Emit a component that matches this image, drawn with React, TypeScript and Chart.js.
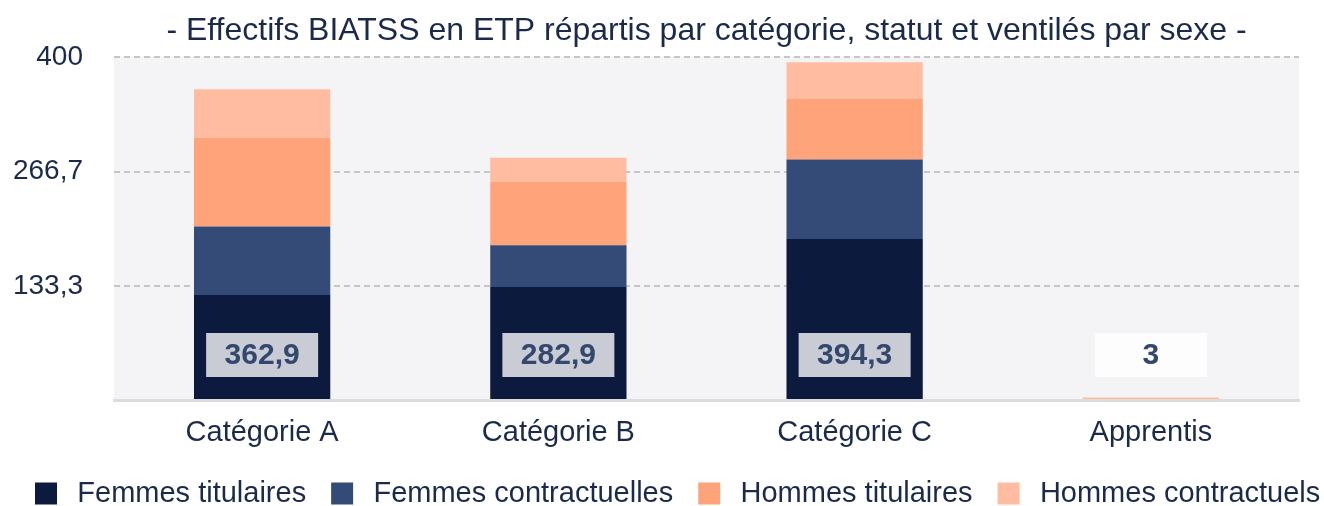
import React, { useEffect, useRef } from 'react';
import { Chart, registerables } from 'chart.js';

Chart.register(...registerables);

const categories = ['Catégorie A', 'Catégorie B', 'Catégorie C', 'Apprentis'];
const femmesTitulaires = [122.5, 132, 188, 0];
const femmesContractuelles = [80, 48.6, 92.8, 0];
const hommesTitulaires = [104, 74.4, 70.7, 0];
const hommesContractuels = [56.4, 27.9, 42.8, 3];
const seriesLabels = ['Femmes titulaires', 'Femmes contractuelles', 'Hommes titulaires', 'Hommes contractuels'];
const seriesColors = ['#0B1A3D', '#334B76', '#FFA37A', '#FFBCA0'];
const yTickValues = [0, 133.3, 266.7, 400];
const titleText = '- Effectifs BIATSS en ETP répartis par catégorie, statut et ventilés par sexe -';

const FONT = "'Liberation Sans', Arial, Helvetica, sans-serif";
const TEXT = '#1B2A4B';

const fmt = (v: number) => {
  const r = Math.round(v * 10) / 10;
  return (Number.isInteger(r) ? String(r) : r.toFixed(1)).replace('.', ',');
};

const bgPlugin = {
  id: 'plotBg',
  beforeDraw(chart: any) {
    const { ctx, chartArea } = chart;
    ctx.save();
    ctx.fillStyle = '#F4F4F6';
    ctx.fillRect(chartArea.left, chartArea.top - 1, chartArea.right - chartArea.left, chartArea.bottom - chartArea.top + 1);
    ctx.restore();
  },
};

const totalsPlugin = {
  id: 'totals',
  afterDatasetsDraw(chart: any) {
    const { ctx } = chart;
    const xs = chart.scales.x;
    const ys = chart.scales.y;
    const base = ys.getPixelForValue(0);
    categories.forEach((_, i) => {
      let total = 0;
      chart.data.datasets.forEach((d: any) => { total += d.data[i] || 0; });
      const cx = xs.getPixelForValue(i);
      const w = 112;
      const h = 44;
      const top = base - 67;
      ctx.save();
      ctx.fillStyle = 'rgba(255,255,255,0.78)';
      ctx.fillRect(cx - w / 2, top, w, h);
      ctx.fillStyle = '#34476C';
      ctx.font = `bold 30px ${FONT}`;
      ctx.textAlign = 'center';
      ctx.textBaseline = 'middle';
      ctx.fillText(fmt(total), cx, top + h / 2 + 1);
      ctx.restore();
    });
  },
};

export default function App() {
  const ref = useRef<HTMLCanvasElement | null>(null);
  useEffect(() => {
    document.body.style.margin = '0';
    if (!ref.current) return;
    const series = [femmesTitulaires, femmesContractuelles, hommesTitulaires, hommesContractuels];
    const chart = new Chart(ref.current, {
      type: 'bar',
      data: {
        labels: categories,
        datasets: series.map((data, k) => ({
          label: seriesLabels[k],
          data,
          backgroundColor: seriesColors[k],
          borderWidth: 0,
          barPercentage: 0.46,
          categoryPercentage: 1,
        })),
      },
      options: {
        responsive: false,
        animation: false,
        events: [],
        layout: { padding: { left: 10, right: -40, top: 0, bottom: -12 } },
        scales: {
          x: {
            stacked: true,
            grid: { display: false },
            border: { display: true, color: '#DCDCDC', width: 3 },
            ticks: { color: TEXT, font: { size: 29, family: FONT }, padding: 8 },
            afterFit: (s: any) => { s.height = 54; },
          },
          y: {
            stacked: true,
            min: 0,
            max: 400,
            afterBuildTicks: (s: any) => { s.ticks = yTickValues.map((value) => ({ value })); },
            grid: {
              color: (c: any) => (c.tick && c.tick.value === 0 ? 'rgba(0,0,0,0)' : '#C6C6C6'),
              lineWidth: 2,
              drawTicks: false,
            },
            border: { display: false, dash: [6, 4] },
            ticks: {
              color: TEXT,
              font: { size: 28, family: FONT },
              padding: 31,
              callback: (v: any) => (Number(v) === 0 ? '' : fmt(Number(v))),
            },
            afterFit: (s: any) => { s.width = 104; },
          },
          y2: {
            axis: 'y',
            position: 'right',
            display: true,
            grid: { display: false, drawTicks: false },
            border: { display: false },
            ticks: { display: false },
            afterFit: (s: any) => { s.width = 65; },
          },
        } as any,
        plugins: {
          title: {
            display: true,
            text: titleText,
            color: TEXT,
            font: { size: 32, family: FONT, weight: 'normal' },
            padding: { top: 12, bottom: 7 },
            fullSize: false,
          },
          legend: {
            position: 'bottom',
            align: 'start',
            labels: {
              boxWidth: 22,
              boxHeight: 22,
              padding: 25,
              color: TEXT,
              font: { size: 29, family: FONT },
              generateLabels: (c: any) =>
                (Chart.defaults.plugins.legend.labels.generateLabels as any)(c).map((l: any) => ({
                  ...l,
                  text: '\u2009' + l.text,
                  lineWidth: 0,
                })),
            },
          },
          tooltip: { enabled: false },
        },
      } as any,
      plugins: [bgPlugin, totalsPlugin],
    });
    return () => chart.destroy();
  }, []);
  return (
    <div style={{ width: 1324, height: 506 }}>
      <canvas ref={ref} width={1324} height={506} />
    </div>
  );
}
